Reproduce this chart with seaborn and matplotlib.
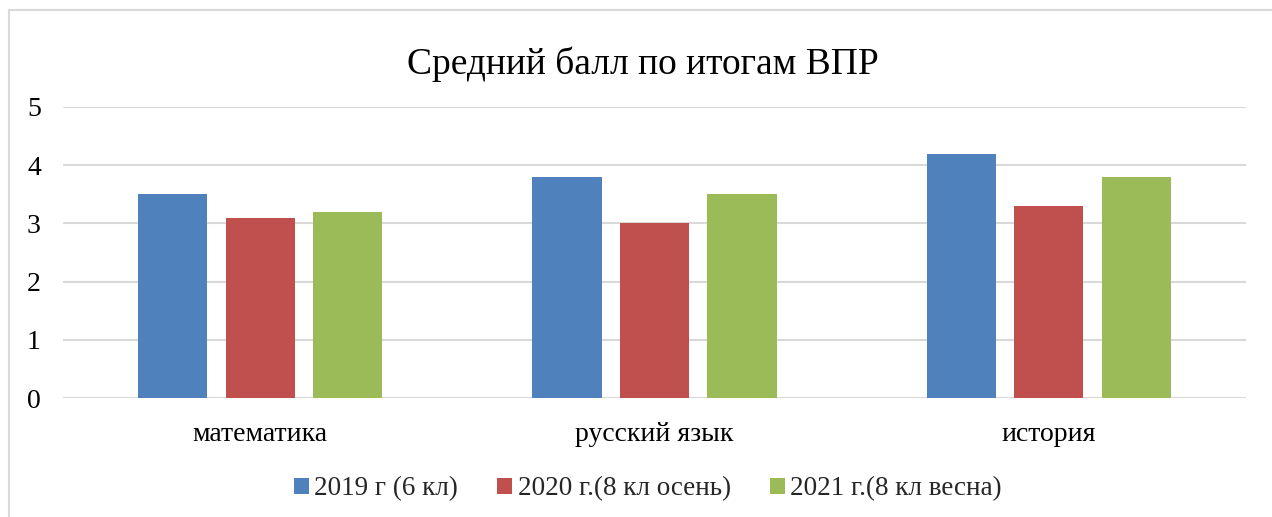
import matplotlib
matplotlib.use("Agg")
import matplotlib.pyplot as plt
import seaborn as sns
import pandas as pd
from matplotlib.patches import Rectangle, Patch

categories = ["математика", "русский язык", "история"]
series = ["2019 г (6 кл)", "2020 г.(8 кл осень)", "2021 г.(8 кл весна)"]
v2019 = [3.5, 3.8, 4.2]
v2020 = [3.1, 3.0, 3.3]
v2021 = [3.2, 3.5, 3.8]
colors = ["#4F81BD", "#C0504D", "#9BBB59"]
title = "Средний балл по итогам ВПР"

rows = []
for s, vals in zip(series, [v2019, v2020, v2021]):
    for c, v in zip(categories, vals):
        rows.append({"cat": c, "series": s, "val": v})
df = pd.DataFrame(rows)

sns.set_theme(style="white")
plt.rcParams["font.family"] = ["Liberation Serif", "DejaVu Serif"]

fig = plt.figure(figsize=(12.72, 5.17), dpi=100)
ax = fig.add_axes([63/1272, 1-398/517, (1246-63)/1272, (398-107)/517])

sns.barplot(data=df, x="cat", y="val", hue="series", palette=colors,
            width=0.666, gap=0.21, ax=ax, legend=False, saturation=1,
            edgecolor="none", linewidth=0)

ax.set_ylim(0, 5)
ax.set_yticks([0, 1, 2, 3, 4, 5])
ax.set_xlim(-0.5, 2.5)
ax.yaxis.grid(True, color="#d9d9d9", linewidth=1.5)
ax.set_axisbelow(True)
for sp in ax.spines.values():
    sp.set_visible(False)
ax.set_xlabel("")
ax.set_ylabel("")
ax.tick_params(axis="y", length=0, pad=16, labelsize=20, labelcolor="black")
ax.tick_params(axis="x", length=0, pad=17, labelsize=20, labelcolor="black")

fig.text(643/1272, 1-74/517, title, ha="center", va="baseline", fontsize=27, color="black")

handles = [Patch(facecolor=c, edgecolor="none") for c in colors]
fig.legend(handles, series, loc="center", bbox_to_anchor=(648/1272, 1-489/517), ncol=3,
           frameon=False, fontsize=19.5, handlelength=0.55, handleheight=0.55,
           handletextpad=0.2, columnspacing=1.45)

fig.patches.append(Rectangle((9/1272, -0.1), 1.2, 1-10/517+0.1, transform=fig.transFigure,
                             fill=False, edgecolor="#d9d9d9", linewidth=1.5, figure=fig))

fig.savefig("out.png", dpi=100)
